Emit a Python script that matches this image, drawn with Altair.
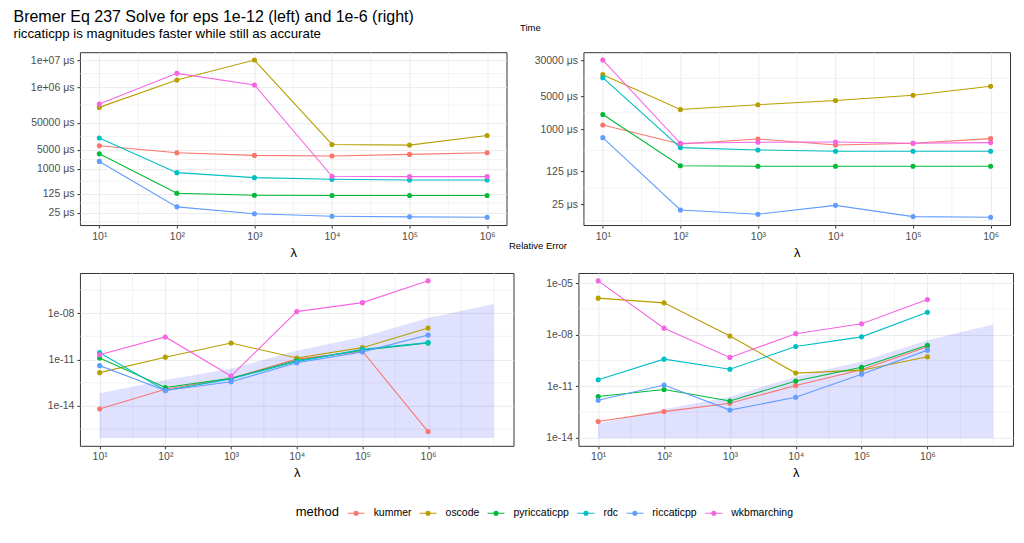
import altair as alt
import numpy as np
import pandas as pd

FONT = "Liberation Sans"

methods = ["kummer", "oscode", "pyriccaticpp", "rdc", "riccaticpp", "wkbmarching"]
colors = ["#F8766D", "#B79F00", "#00BA38", "#00BFC4", "#619CFF", "#F564E3"]
lambdas = [1e1, 1e2, 1e3, 1e4, 1e5, 1e6]
x_sup = ["¹", "²", "³", "⁴", "⁵", "⁶"]

# Time in microseconds, eps = 1e-12 (left)
time_left = {
    "kummer":       [7140, 3960, 3160, 2990, 3440, 3960],
    "oscode":       [183000, 1.85e6, 1.0e7, 7980, 7550, 17000],
    "pyriccaticpp": [3600, 129, 109, 106, 106, 106],
    "rdc":          [13700, 735, 482, 419, 396, 396],
    "riccaticpp":   [1900, 40.7, 22.6, 18.5, 17.5, 17.0],
    "wkbmarching":  [245000, 3.25e6, 1.22e6, 540, 525, 525],
}
# Time in microseconds, eps = 1e-6 (right)
time_right = {
    "kummer":       [1230, 485, 621, 463, 502, 631],
    "oscode":       [14650, 2650, 3330, 4110, 5330, 8280],
    "pyriccaticpp": [2070, 166, 163, 163, 163, 163],
    "rdc":          [12650, 406, 362, 340, 340, 340],
    "riccaticpp":   [662, 19.0, 15.4, 23.8, 13.7, 13.3],
    "wkbmarching":  [30000, 502, 527, 535, 502, 519],
}
# Relative error, eps = 1e-12 (left)
err_left = {
    "kummer":       [6.3e-15, 1.2e-13, 6.0e-13, 1.05e-11, 3.4e-11, 2.2e-16],
    "oscode":       [1.41e-12, 1.41e-11, 1.16e-10, 1.25e-11, 5.8e-11, 1.08e-9],
    "pyriccaticpp": [1.25e-11, 1.55e-13, 6.1e-13, 8.6e-12, 3.9e-11, 1.18e-10],
    "rdc":          [2.75e-11, 1.0e-13, 5.6e-13, 7.3e-12, 4.5e-11, 1.23e-10],
    "riccaticpp":   [4.0e-12, 1.0e-13, 3.6e-13, 6.1e-12, 3.1e-11, 3.8e-10],
    "wkbmarching":  [2.0e-11, 2.85e-10, 8.5e-13, 1.24e-8, 4.7e-8, 1.2e-6],
}
# Relative error, eps = 1e-6 (right)
err_right = {
    "kummer":       [9.0e-14, 3.4e-13, 1.04e-12, 1.12e-11, 9.3e-11, 2.0e-9],
    "oscode":       [1.33e-6, 7.1e-7, 8.4e-9, 5.9e-11, 8.7e-11, 5.2e-10],
    "pyriccaticpp": [2.55e-12, 6.6e-12, 1.4e-12, 2.05e-11, 1.28e-10, 2.45e-9],
    "rdc":          [2.4e-11, 3.8e-10, 9.9e-11, 2.05e-9, 7.5e-9, 2.0e-7],
    "riccaticpp":   [1.57e-12, 1.2e-11, 4.15e-13, 2.3e-12, 5.1e-11, 1.27e-9],
    "wkbmarching":  [1.35e-5, 2.4e-8, 4.8e-10, 1.15e-8, 4.35e-8, 1.1e-6],
}

# shaded band on the error panels
ribbon_lambdas = [1e1, 1e2, 1e3, 1e4, 1e5, 1e6, 1e7]
ribbon_upper = [6.6e-14, 4.7e-13, 2.5e-12, 3.6e-11, 2.8e-10, 4.7e-9, 3.9e-8]
ribbon_lower_left = 8.5e-17
ribbon_lower_right = 1.0e-14

time_breaks_left = [25, 125, 1000, 5000, 50000, 1e6, 1e7]
time_breaks_right = [25, 125, 1000, 5000, 30000]
err_breaks_left = [1e-14, 1e-11, 1e-8]
err_breaks_right = [1e-14, 1e-11, 1e-8, 1e-5]


def long_df(d):
    rows = []
    for m in methods:
        for lam, v in zip(lambdas, d[m]):
            rows.append({"lam": lam, "val": v, "method": m})
    return pd.DataFrame(rows)


def expand_log(vals, mult=0.05):
    lv = np.log10(np.asarray(vals, dtype=float))
    lo, hi = lv.min(), lv.max()
    pad = (hi - lo) * mult
    return [float(10 ** (lo - pad)), float(10 ** (hi + pad))]


def minor_breaks(breaks, domain):
    lb = list(np.log10(np.asarray(breaks, dtype=float)))
    ld = np.log10(np.asarray(domain, dtype=float))
    bd = lb[1] - lb[0]
    ext = list(lb)
    if ld[0] < lb[0]:
        ext = [lb[0] - bd] + ext
    if ld[1] > lb[-1]:
        ext = ext + [lb[-1] + bd]
    cand = [(a + b) / 2 for a, b in zip(ext[:-1], ext[1:])]
    cand += [e for e in ext if all(abs(e - b) > 1e-9 for b in lb)]
    return [float(10 ** c) for c in cand if ld[0] <= c <= ld[1]]


def ring(r):
    return f"M-{r},0A{r},{r},0,1,0,{r},0A{r},{r},0,1,0,-{r},0"


LEGEND_SYMBOL = "M-1,0H1 " + " ".join(ring(r) for r in (0.235, 0.165, 0.095, 0.03))

color_scale = alt.Scale(domain=methods, range=colors)
legend = alt.Legend(title="method", symbolType=LEGEND_SYMBOL, symbolSize=289,
                    symbolStrokeWidth=1.1, symbolOpacity=1)

X_LABEL_EXPR = "'10' + " + str(x_sup).replace(" ", "") + "[round(log(datum.value)/LN10)-1]"
TIME_LABEL_EXPR = ("datum.value >= 1000000 ? '1e+0' + round(log(datum.value)/LN10) + ' μs'"
                   " : datum.value + ' μs'")
ERR_LABEL_EXPR = ("'1e-' + (round(-log(datum.value)/LN10) < 10 ? '0' : '')"
                  " + round(-log(datum.value)/LN10)")

right_title_x = -502
right_title_y = 196


def panel(data, breaks, label_expr, width, height, y_min_extent,
          ribbon_lower=None, right_title=None):
    df = long_df(data)
    yvals = list(df["val"])
    if ribbon_lower is not None:
        yvals += ribbon_upper + [ribbon_lower]
        xvals = ribbon_lambdas
    else:
        xvals = lambdas
    x_dom = expand_log(xvals)
    y_dom = expand_log(yvals)
    xs = alt.Scale(type="log", domain=x_dom, nice=False)
    ys = alt.Scale(type="log", domain=y_dom, nice=False)
    x_axis = alt.Axis(values=lambdas, labelExpr=X_LABEL_EXPR, title="λ",
                      labelOverlap=False, labelFlush=False, minExtent=17,
                      titlePadding=4)
    y_axis = alt.Axis(values=breaks, labelExpr=label_expr, title=None,
                      labelOverlap=False, minExtent=y_min_extent, orient="left")

    xm = pd.DataFrame({"lam": minor_breaks(lambdas, x_dom)})
    ym = pd.DataFrame({"val": minor_breaks(breaks, y_dom)})

    vminor = alt.Chart(xm).mark_rule(color="#EBEBEB", strokeWidth=0.6).encode(
        x=alt.X("lam:Q", scale=xs, axis=x_axis))
    layers = [vminor]

    if right_title is None:
        hminor = alt.Chart(ym).mark_rule(color="#EBEBEB", strokeWidth=0.6).encode(
            y=alt.Y("val:Q", scale=ys, axis=y_axis))
        layers.append(hminor)
    else:
        r_axis = alt.Axis(orient="right", title=right_title, labels=False,
                          ticks=False, domain=False, grid=False,
                          titleX=right_title_x, titleY=right_title_y,
                          titleAngle=0, titleAlign="left",
                          titleBaseline="alphabetic", titleFontSize=9.5,
                          titleFontWeight="normal", titleColor="black",
                          titleFont=FONT)
        hminor = alt.Chart(ym).mark_rule(color="#EBEBEB", strokeWidth=0.6).encode(
            y=alt.Y("val:Q", scale=ys, axis=r_axis))

    if ribbon_lower is not None:
        rib = pd.DataFrame({"lam": ribbon_lambdas, "upper": ribbon_upper,
                            "lower": [ribbon_lower] * len(ribbon_lambdas)})
        layers.append(alt.Chart(rib).mark_area(color="blue", opacity=0.12).encode(
            x=alt.X("lam:Q", scale=xs, axis=x_axis),
            y=alt.Y("upper:Q", scale=ys, axis=y_axis),
            y2="lower:Q"))

    base = alt.Chart(df).encode(
        x=alt.X("lam:Q", scale=xs, axis=x_axis),
        y=alt.Y("val:Q", scale=ys, axis=y_axis))
    lines = base.mark_line(strokeWidth=1.1).encode(
        color=alt.Color("method:N", scale=color_scale, legend=legend))
    pts = base.mark_circle(size=26, opacity=1).encode(
        color=alt.Color("method:N", scale=color_scale, legend=legend))
    layers += [lines, pts]

    main = alt.layer(*layers)
    if right_title is None:
        return main.properties(width=width, height=height)
    return alt.layer(hminor, main).resolve_axis(y="independent").properties(
        width=width, height=height)


TL = panel(time_left, time_breaks_left, TIME_LABEL_EXPR, 427, 173, 52)
TR = panel(time_right, time_breaks_right, TIME_LABEL_EXPR, 427, 173, 20,
           right_title="Relative Error")
BL = panel(err_left, err_breaks_left, ERR_LABEL_EXPR, 434, 173, 52,
           ribbon_lower=ribbon_lower_left)
BR = panel(err_right, err_breaks_right, ERR_LABEL_EXPR, 435, 173, 34,
           ribbon_lower=ribbon_lower_right)

row1 = alt.hconcat(TL, TR, spacing=0, title=alt.TitleParams(
    "Time", anchor="start", frame="bounds", dx=493, offset=19, fontSize=9.5,
    fontWeight="normal", color="black", font=FONT))
row2 = alt.hconcat(BL, BR, spacing=29)

chart = alt.vconcat(row1, row2, spacing=12, title=alt.TitleParams(
    "Bremer Eq 237 Solve for eps 1e-12 (left) and 1e-6 (right)",
    subtitle="riccaticpp is magnitudes faster while still as accurate",
    anchor="start", frame="bounds", dx=-14, dy=17, offset=0,
    fontSize=16, fontWeight="normal", color="black", font=FONT,
    subtitleFontSize=13.3, subtitleColor="black", subtitleFont=FONT,
    subtitlePadding=2,
)).resolve_scale(color="shared").properties(
    padding={"left": 5, "top": 0, "right": 2, "bottom": 2},
    background="white",
).configure_view(
    stroke="#333333", strokeWidth=1,
).configure_axis(
    labelFont=FONT, labelFontSize=10.5, labelColor="#4D4D4D",
    tickColor="#333333", tickSize=3, tickWidth=1, labelPadding=3,
    domain=False, gridColor="#EBEBEB", gridWidth=1,
    titleFont=FONT, titleFontSize=13, titleFontWeight="normal", titleColor="black",
).configure_legend(
    orient="none", legendX=216, legendY=452, direction="horizontal", columns=6,
    titleOrient="left", titleFont=FONT, titleFontSize=13, titleFontWeight="normal",
    titleColor="black", titlePadding=7, titleBaseline="middle",
    labelFont=FONT, labelFontSize=10.5, labelColor="black", labelOffset=8,
    columnPadding=5,
)

chart.save("out.html", embed_options={"renderer": "svg", "actions": False})
